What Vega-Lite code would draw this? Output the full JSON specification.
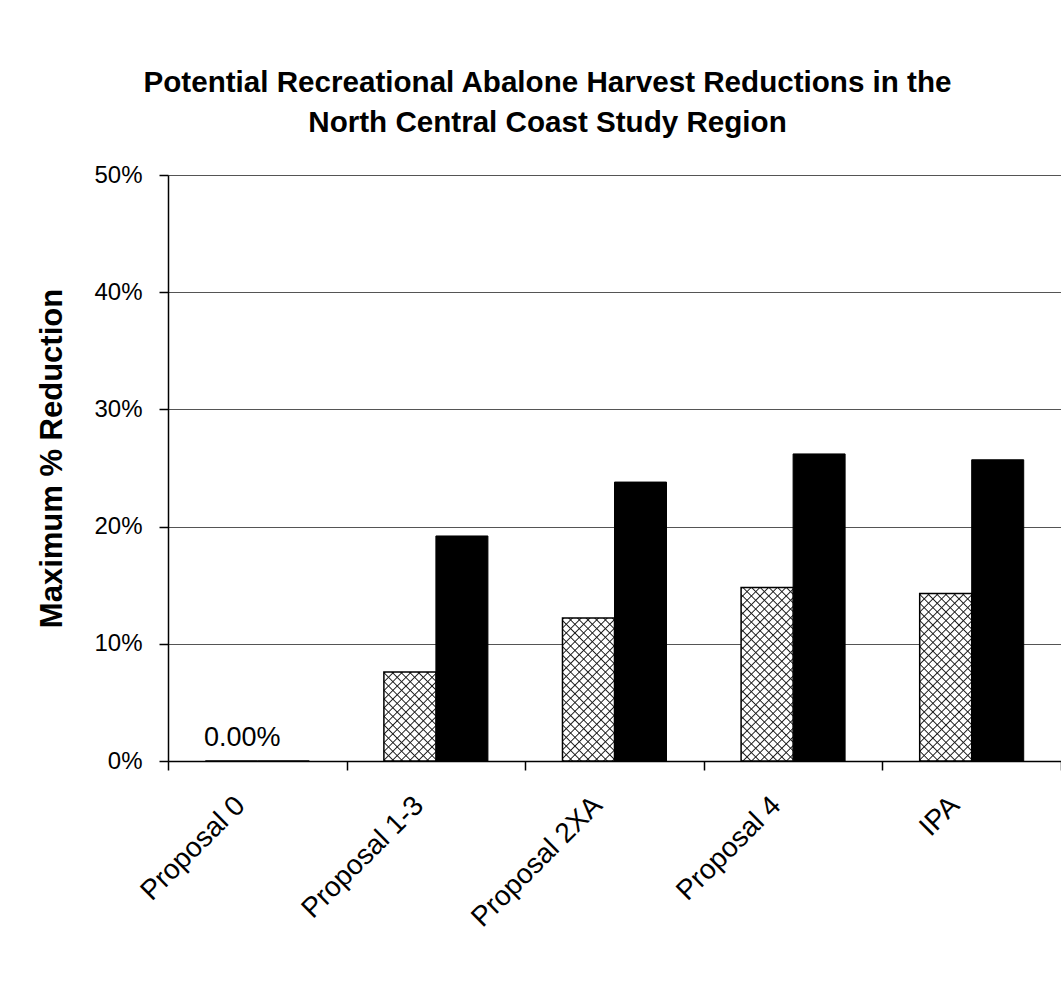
{
  "$schema": "https://vega.github.io/schema/vega-lite/v6.json",
  "width": 893,
  "height": 586,
  "autosize": {"type": "none"},
  "padding": {"left": 168, "top": 175, "right": 0, "bottom": 245},
  "background": "white",
  "params": [
    {"name": "hs", "value": [
      {"offset":0,"color":"transparent"},{"offset":0.00577,"color":"#222"},{"offset":0.01154,"color":"transparent"},
      {"offset":0.03846,"color":"transparent"},{"offset":0.04423,"color":"#222"},{"offset":0.05,"color":"transparent"},
      {"offset":0.07692,"color":"transparent"},{"offset":0.08269,"color":"#222"},{"offset":0.08846,"color":"transparent"},
      {"offset":0.11538,"color":"transparent"},{"offset":0.12115,"color":"#222"},{"offset":0.12692,"color":"transparent"},
      {"offset":0.15385,"color":"transparent"},{"offset":0.15962,"color":"#222"},{"offset":0.16538,"color":"transparent"},
      {"offset":0.19231,"color":"transparent"},{"offset":0.19808,"color":"#222"},{"offset":0.20385,"color":"transparent"},
      {"offset":0.23077,"color":"transparent"},{"offset":0.23654,"color":"#222"},{"offset":0.24231,"color":"transparent"},
      {"offset":0.26923,"color":"transparent"},{"offset":0.275,"color":"#222"},{"offset":0.28077,"color":"transparent"},
      {"offset":0.30769,"color":"transparent"},{"offset":0.31346,"color":"#222"},{"offset":0.31923,"color":"transparent"},
      {"offset":0.34615,"color":"transparent"},{"offset":0.35192,"color":"#222"},{"offset":0.35769,"color":"transparent"},
      {"offset":0.38462,"color":"transparent"},{"offset":0.39038,"color":"#222"},{"offset":0.39615,"color":"transparent"},
      {"offset":0.42308,"color":"transparent"},{"offset":0.42885,"color":"#222"},{"offset":0.43462,"color":"transparent"},
      {"offset":0.46154,"color":"transparent"},{"offset":0.46731,"color":"#222"},{"offset":0.47308,"color":"transparent"},
      {"offset":0.5,"color":"transparent"},{"offset":0.50577,"color":"#222"},{"offset":0.51154,"color":"transparent"},
      {"offset":0.53846,"color":"transparent"},{"offset":0.54423,"color":"#222"},{"offset":0.55,"color":"transparent"},
      {"offset":0.57692,"color":"transparent"},{"offset":0.58269,"color":"#222"},{"offset":0.58846,"color":"transparent"},
      {"offset":0.61538,"color":"transparent"},{"offset":0.62115,"color":"#222"},{"offset":0.62692,"color":"transparent"},
      {"offset":0.65385,"color":"transparent"},{"offset":0.65962,"color":"#222"},{"offset":0.66538,"color":"transparent"},
      {"offset":0.69231,"color":"transparent"},{"offset":0.69808,"color":"#222"},{"offset":0.70385,"color":"transparent"},
      {"offset":0.73077,"color":"transparent"},{"offset":0.73654,"color":"#222"},{"offset":0.74231,"color":"transparent"},
      {"offset":0.76923,"color":"transparent"},{"offset":0.775,"color":"#222"},{"offset":0.78077,"color":"transparent"},
      {"offset":0.80769,"color":"transparent"},{"offset":0.81346,"color":"#222"},{"offset":0.81923,"color":"transparent"},
      {"offset":0.84615,"color":"transparent"},{"offset":0.85192,"color":"#222"},{"offset":0.85769,"color":"transparent"},
      {"offset":0.88462,"color":"transparent"},{"offset":0.89038,"color":"#222"},{"offset":0.89615,"color":"transparent"},
      {"offset":0.92308,"color":"transparent"},{"offset":0.92885,"color":"#222"},{"offset":0.93462,"color":"transparent"},
      {"offset":0.96154,"color":"transparent"},{"offset":0.96731,"color":"#222"},{"offset":0.97308,"color":"transparent"}
    ]}
  ],
  "title": {
    "text": ["Potential Recreational Abalone Harvest Reductions in the", "North Central Coast Study Region"],
    "font": "Liberation Sans",
    "fontSize": 29.6,
    "fontWeight": "bold",
    "color": "black",
    "lineHeight": 40,
    "anchor": "middle",
    "dx": -67,
    "offset": 24
  },
  "data": {
    "values": [
      {"proposal": "Proposal 0", "series": "Series 1", "value": 0},
      {"proposal": "Proposal 0", "series": "Series 2", "value": 0},
      {"proposal": "Proposal 1-3", "series": "Series 1", "value": 0.076},
      {"proposal": "Proposal 1-3", "series": "Series 2", "value": 0.192},
      {"proposal": "Proposal 2XA", "series": "Series 1", "value": 0.122},
      {"proposal": "Proposal 2XA", "series": "Series 2", "value": 0.238},
      {"proposal": "Proposal 4", "series": "Series 1", "value": 0.148},
      {"proposal": "Proposal 4", "series": "Series 2", "value": 0.262},
      {"proposal": "IPA", "series": "Series 1", "value": 0.143},
      {"proposal": "IPA", "series": "Series 2", "value": 0.257}
    ]
  },
  "encoding": {
    "x": {
      "field": "proposal", "type": "nominal",
      "sort": ["Proposal 0", "Proposal 1-3", "Proposal 2XA", "Proposal 4", "IPA"],
      "scale": {"paddingInner": 0, "paddingOuter": 0},
      "axis": {
        "title": null, "labelAngle": -45, "labelAlign": "right", "labelBaseline": "middle",
        "labelFont": "Liberation Sans", "labelFontSize": 28, "labelColor": "black",
        "tickBand": "extent", "tickSize": 9, "tickColor": "black", "tickWidth": 1.5,
        "domainColor": "black", "domainWidth": 1.5,
        "labelPadding": 31, "labelOffset": -17, "grid": false
      }
    },
    "xOffset": {
      "field": "series", "type": "nominal",
      "sort": ["Series 1", "Series 2"],
      "scale": {"paddingInner": 0, "paddingOuter": 0.717}
    },
    "y": {
      "field": "value", "type": "quantitative",
      "scale": {"domain": [0, 0.5], "nice": false},
      "axis": {
        "title": "Maximum % Reduction", "format": ".0%", "values": [0, 0.1, 0.2, 0.3, 0.4, 0.5],
        "labelFont": "Liberation Sans", "labelFontSize": 24, "labelColor": "black", "labelPadding": 17,
        "tickSize": 9, "tickColor": "black", "tickWidth": 1.5, "domainColor": "black", "domainWidth": 1.5,
        "grid": true, "gridColor": "#555", "gridWidth": 1,
        "titleFont": "Liberation Sans", "titleFontSize": 31, "titleFontWeight": "bold", "titleColor": "black",
        "titleAngle": -90, "titleX": -116, "titleY": 283, "titleAlign": "center", "titleBaseline": "middle"
      }
    }
  },
  "layer": [
    {
      "transform": [{"filter": "datum.series === 'Series 2'"}],
      "mark": {"type": "bar", "fill": "black", "stroke": "black", "strokeWidth": 1}
    },
    {
      "transform": [{"filter": "datum.series === 'Series 1'"}],
      "mark": {"type": "bar", "fill": "white", "strokeWidth": 0}
    },
    {
      "transform": [{"filter": "datum.series === 'Series 1' && datum.value > 0"}],
      "mark": {"type": "bar", "strokeWidth": 0, "fill": {"expr": "{gradient:'linear',x1:0,y1:0,x2:11762.4/(2704+pow(datum.value*1172,2)),y2:datum.value*265106.4/(2704+pow(datum.value*1172,2)),stops:hs}"}}
    },
    {
      "transform": [{"filter": "datum.series === 'Series 1' && datum.value > 0"}],
      "mark": {"type": "bar", "strokeWidth": 0, "fill": {"expr": "{gradient:'linear',x1:0,y1:1,x2:11762.4/(2704+pow(datum.value*1172,2)),y2:1-datum.value*265106.4/(2704+pow(datum.value*1172,2)),stops:hs}"}}
    },
    {
      "transform": [{"filter": "datum.series === 'Series 1'"}],
      "mark": {"type": "bar", "fill": "white", "fillOpacity": 0, "stroke": "black", "strokeWidth": 1.5}
    },
    {
      "transform": [{"filter": "datum.proposal === 'Proposal 0' && datum.series === 'Series 1'"}],
      "mark": {"type": "text", "font": "Liberation Sans", "fontSize": 27, "color": "black", "baseline": "alphabetic", "align": "center", "dx": 11, "dy": -15},
      "encoding": {"text": {"field": "value", "type": "quantitative", "format": ".2%"}}
    }
  ],
  "config": {
    "view": {"stroke": null},
    "legend": {"disable": true}
  }
}
